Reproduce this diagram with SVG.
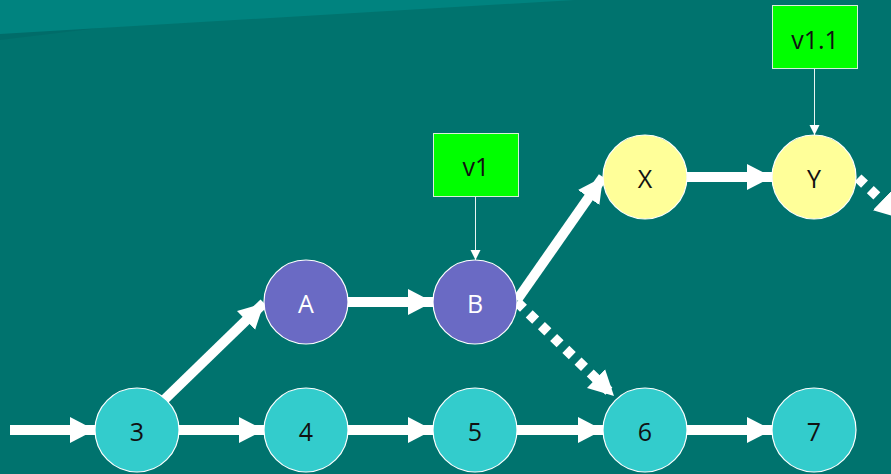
<svg xmlns="http://www.w3.org/2000/svg" width="891" height="474" viewBox="0 0 891 474">
  <defs>
    <marker id="head" markerUnits="userSpaceOnUse" markerWidth="27" markerHeight="28" refX="25" refY="14" orient="auto">
      <path d="M0,1 L25,14 L0,27 Z" fill="#ffffff"/>
    </marker>
    <marker id="thin" markerUnits="userSpaceOnUse" markerWidth="12" markerHeight="12" refX="10" refY="5" orient="auto">
      <path d="M0,0 L10,5 L0,10 Z" fill="#ffffff"/>
    </marker>
    <style>
      .bold { stroke: #ffffff; stroke-width: 10; fill: none; marker-end: url(#head); }
      .dot { stroke: #ffffff; stroke-width: 10; fill: none; stroke-dasharray: 9 8; marker-end: url(#head); }
      .tag-link { stroke: #e8f4f2; stroke-width: 1; fill: none; marker-end: url(#thin); }
      .node circle { stroke: #ffffff; stroke-width: 1.2; }
      .cyan circle { fill: #33cccc; }
      .violet circle { fill: #6a6ac4; }
      .pale circle { fill: #ffff99; }
      .tag rect { fill: #00ff00; stroke: #d8f0d8; stroke-width: 1; }
      text { font-family: "Open Sans", "DejaVu Sans", sans-serif; font-size: 25px; text-anchor: middle; dominant-baseline: central; }
      .dark { fill: #111111; }
      .light { fill: #ffffff; }
    </style>
  </defs>

  <!-- background with the lighter band across the top -->
  <rect width="891" height="474" fill="#00736e"/>
  <path d="M0,0 L330,0 L0,40 Z" fill="#006a66" opacity="0.7"/>
  <path d="M0,0 L575,0 L0,34 Z" fill="#00837f"/>

  <!-- connectors -->
  <g id="connectors">
    <line class="bold" x1="10" y1="430" x2="95" y2="430"/>
    <line class="bold" x1="179" y1="430" x2="264" y2="430"/>
    <line class="bold" x1="348" y1="430" x2="433" y2="430"/>
    <line class="bold" x1="517" y1="430" x2="603" y2="430"/>
    <line class="bold" x1="687" y1="430" x2="772" y2="430"/>
    <line class="bold" x1="164" y1="400" x2="264" y2="303"/>
    <line class="bold" x1="348" y1="302" x2="433" y2="302"/>
    <line class="bold" x1="517" y1="300" x2="603" y2="177"/>
    <line class="bold" x1="687" y1="177" x2="772" y2="177"/>
    <line class="dot" x1="517" y1="302" x2="614" y2="396"/>
    <line class="dot" x1="858" y1="178" x2="900" y2="218"/>
    <line class="tag-link" x1="475.5" y1="197" x2="475.5" y2="260"/>
    <line class="tag-link" x1="814.5" y1="69" x2="814.5" y2="135"/>
  </g>

  <!-- nodes -->
  <g id="n3" class="node cyan"><circle cx="137" cy="430" r="42"/><text x="137" y="431" class="dark">3</text></g>
  <g id="n4" class="node cyan"><circle cx="306" cy="430" r="42"/><text x="306" y="431" class="dark">4</text></g>
  <g id="n5" class="node cyan"><circle cx="475" cy="430" r="42"/><text x="475" y="431" class="dark">5</text></g>
  <g id="n6" class="node cyan"><circle cx="645" cy="430" r="42"/><text x="645" y="431" class="dark">6</text></g>
  <g id="n7" class="node cyan"><circle cx="814" cy="430" r="42"/><text x="814" y="431" class="dark">7</text></g>
  <g id="nA" class="node violet"><circle cx="306" cy="302" r="42"/><text x="306" y="303" class="light">A</text></g>
  <g id="nB" class="node violet"><circle cx="475" cy="302" r="42"/><text x="475" y="303" class="light">B</text></g>
  <g id="nX" class="node pale"><circle cx="645" cy="177" r="42"/><text x="645" y="178" class="dark">X</text></g>
  <g id="nY" class="node pale"><circle cx="814" cy="177" r="42"/><text x="814" y="178" class="dark">Y</text></g>

  <!-- version tags -->
  <g id="tag-v1" class="tag"><rect x="433.5" y="133.5" width="85" height="63"/><text x="476" y="166" class="dark">v1</text></g>
  <g id="tag-v1-1" class="tag"><rect x="772.5" y="5.5" width="85" height="63"/><text x="815" y="39" class="dark">v1.1</text></g>
</svg>
